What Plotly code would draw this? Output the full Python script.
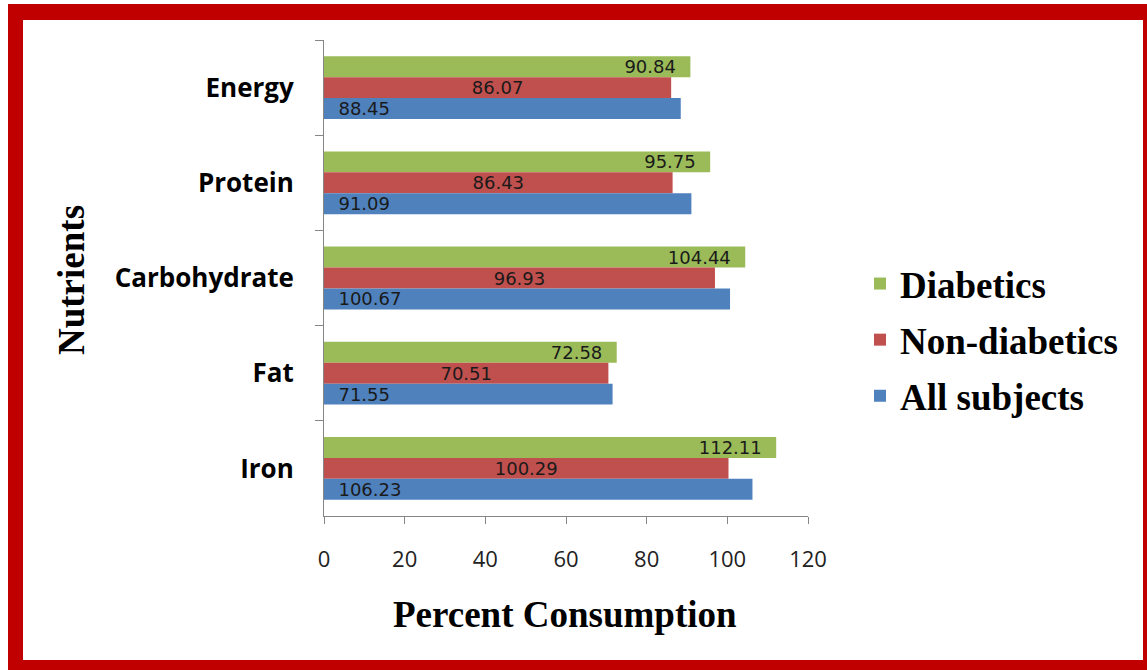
import plotly.graph_objects as go

# Nutrient categories, top to bottom
nutrients = ["Energy", "Protein", "Carbohydrate", "Fat", "Iron"]

# Percent consumption per group
diabetics = [90.84, 95.75, 104.44, 72.58, 112.11]
non_diabetics = [86.07, 86.43, 96.93, 70.51, 100.29]
all_subjects = [88.45, 91.09, 100.67, 71.55, 106.23]

x_ticks = [0, 20, 40, 60, 80, 100, 120]

W, H = 1147, 670
L, R, T, B = 324, W - 808, 40, H - 516
PW, PH = W - L - R, H - T - B


def px_x(px):
    return (px - L) / PW


def px_y(py):
    return (H - B - py) / PH


label_font = dict(family="DejaVu Sans", size=18, color="#1a1a1a")
series = [
    ("Diabetics", diabetics, "#9BBB59", "end", "%{x:.2f}\u00a0\u00a0"),
    ("Non-diabetics", non_diabetics, "#C0504D", "middle", "%{x:.2f}"),
    ("All subjects", all_subjects, "#4F81BD", "start", "\u00a0\u00a0%{x:.2f}"),
]

fig = go.Figure()
for name, vals, color, anchor, tmpl in series:
    fig.add_trace(go.Bar(
        y=nutrients, x=vals, name=name, orientation="h", legendgroup=name,
        marker=dict(color=color, line=dict(width=0)),
        texttemplate=tmpl, textposition="inside", insidetextanchor=anchor,
        textangle=0, constraintext="none", textfont=label_font,
        hoverinfo="x+name",
    ))

# red frame around the figure
shapes = [
    dict(type="rect", xref="paper", yref="paper", layer="below",
         x0=px_x(8), x1=px_x(W + 20), y0=px_y(H + 20), y1=px_y(4),
         fillcolor="#C00000", line=dict(width=0)),
    dict(type="rect", xref="paper", yref="paper", layer="below",
         x0=px_x(23), x1=px_x(1143), y0=px_y(660), y1=px_y(20),
         fillcolor="white", line=dict(width=0)),
]

title_font = dict(family="Liberation Serif", size=37, color="black", weight="bold")
annotations = [
    dict(text="Nutrients", xref="paper", yref="paper", x=px_x(71), y=px_y(280),
         textangle=-90, showarrow=False, font=title_font,
         xanchor="center", yanchor="middle"),
    dict(text="Percent Consumption", xref="paper", yref="paper",
         x=px_x(565), y=px_y(614), showarrow=False, font=title_font,
         xanchor="center", yanchor="middle"),
]

fig.update_layout(
    width=W, height=H,
    margin=dict(l=L, r=R, t=T, b=B, pad=0),
    paper_bgcolor="white", plot_bgcolor="rgba(0,0,0,0)",
    barmode="group", bargap=0.34, bargroupgap=0,
    shapes=shapes, annotations=annotations,
    legend=dict(
        x=px_x(860), y=px_y(253), xanchor="left", yanchor="top",
        font=dict(family="Liberation Serif", size=37, color="black", weight="bold"),
        bgcolor="rgba(0,0,0,0)", traceorder="grouped", tracegroupgap=5,
    ),
    xaxis=dict(
        range=[0, 120], tickvals=x_ticks, ticktext=[str(v) for v in x_ticks],
        showgrid=False, zeroline=False, showline=True, linecolor="#868686",
        linewidth=1, ticks="outside", ticklen=7, tickcolor="#868686",
        tickfont=dict(family="Open Sans", size=22, color="#222222"),
        ticklabelstandoff=17,
    ),
    yaxis=dict(
        autorange="reversed", categoryorder="array", categoryarray=nutrients,
        showgrid=False, zeroline=False, showline=True, linecolor="#868686",
        linewidth=1, ticks="outside", ticklen=8, tickcolor="#868686",
        tickson="boundaries",
        tickfont=dict(family="Open Sans", size=26, color="black", weight="bold"),
        ticklabelstandoff=24,
    ),
)

fig.write_html("out.html")
